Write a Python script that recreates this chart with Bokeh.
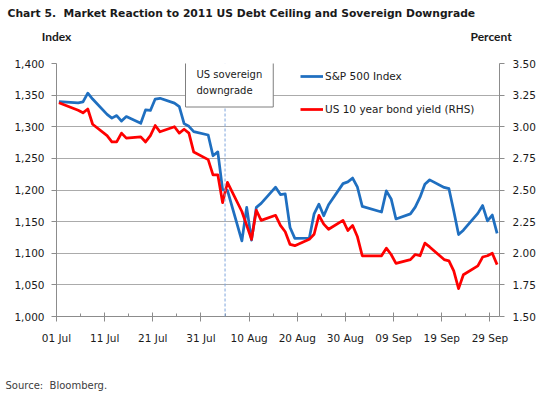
import pandas as pd
from bokeh.plotting import figure
from bokeh.models import (Range1d, LinearAxis, FixedTicker, NumeralTickFormatter,
                          DatetimeTickFormatter, Legend, LegendItem, Label, Span,
                          ColumnDataSource, Title)
from bokeh.embed import file_html
from bokeh.resources import INLINE

# ---------------- data ----------------
dates = [
    "2011-07-01", "2011-07-05", "2011-07-06", "2011-07-07", "2011-07-08",
    "2011-07-11", "2011-07-12", "2011-07-13", "2011-07-14", "2011-07-15",
    "2011-07-18", "2011-07-19", "2011-07-20", "2011-07-21", "2011-07-22",
    "2011-07-25", "2011-07-26", "2011-07-27", "2011-07-28", "2011-07-29",
    "2011-08-01", "2011-08-02", "2011-08-03", "2011-08-04", "2011-08-05",
    "2011-08-08", "2011-08-09", "2011-08-10", "2011-08-11", "2011-08-12",
    "2011-08-15", "2011-08-16", "2011-08-17", "2011-08-18", "2011-08-19",
    "2011-08-22", "2011-08-23", "2011-08-24", "2011-08-25", "2011-08-26",
    "2011-08-29", "2011-08-30", "2011-08-31", "2011-09-01", "2011-09-02",
    "2011-09-06", "2011-09-07", "2011-09-08", "2011-09-09", "2011-09-12",
    "2011-09-13", "2011-09-14", "2011-09-15", "2011-09-16", "2011-09-19",
    "2011-09-20", "2011-09-21", "2011-09-22", "2011-09-23", "2011-09-26",
    "2011-09-27", "2011-09-28", "2011-09-29", "2011-09-30",
]
sp500 = [
    1339.7, 1337.9, 1339.2, 1353.2, 1343.8,
    1319.5, 1313.6, 1317.7, 1308.9, 1316.1,
    1305.4, 1326.7, 1325.8, 1343.8, 1345.0,
    1337.4, 1331.9, 1304.9, 1300.7, 1292.3,
    1286.9, 1254.1, 1260.3, 1200.1, 1199.4,
    1119.5, 1172.5, 1120.8, 1172.6, 1178.8,
    1204.5, 1192.8, 1193.9, 1140.7, 1123.5,
    1123.8, 1162.4, 1177.6, 1159.3, 1176.8,
    1210.1, 1212.9, 1218.9, 1204.4, 1174.0,
    1165.2, 1198.6, 1185.9, 1154.2, 1162.3,
    1172.9, 1188.7, 1209.1, 1216.0, 1204.1,
    1202.1, 1166.8, 1129.6, 1136.4, 1163.0,
    1175.4, 1151.1, 1160.4, 1131.4,
]
us10y = [
    3.19, 3.13, 3.11, 3.14, 3.02,
    2.93, 2.88, 2.88, 2.95, 2.91,
    2.92, 2.88, 2.93, 3.01, 2.96,
    3.00, 2.95, 2.98, 2.95, 2.80,
    2.74, 2.62, 2.62, 2.40, 2.56,
    2.33, 2.22, 2.11, 2.34, 2.26,
    2.30, 2.22, 2.17, 2.07, 2.06,
    2.11, 2.15, 2.30, 2.23, 2.19,
    2.26, 2.18, 2.22, 2.13, 1.98,
    1.98, 2.04, 1.99, 1.92, 1.95,
    1.99, 1.98, 2.08, 2.05, 1.95,
    1.94, 1.86, 1.72, 1.83, 1.90,
    1.97, 1.98, 2.00, 1.91,
]
tick_dates = ["2011-07-01", "2011-07-11", "2011-07-21", "2011-07-31", "2011-08-10",
              "2011-08-20", "2011-08-30", "2011-09-09", "2011-09-19", "2011-09-29"]
minor_dates = ["2011-07-06", "2011-07-16", "2011-07-26", "2011-08-05", "2011-08-15",
               "2011-08-25", "2011-09-04", "2011-09-14", "2011-09-24"]
left_ticks = [1000, 1050, 1100, 1150, 1200, 1250, 1300, 1350, 1400]
right_ticks = [1.50, 1.75, 2.00, 2.25, 2.50, 2.75, 3.00, 3.25, 3.50]
x_start, x_end = "2011-07-01", "2011-10-01"
downgrade_date = "2011-08-05"

title_text = "Chart 5.\u00a0 Market Reaction to 2011 US Debt Ceiling and Sovereign Downgrade"
source_text = "Source:\u00a0 Bloomberg."
series_names = ["S&P 500 Index", "US 10 year bond yield (RHS)"]
captions = ["Index", "Percent"]
note_text = "US sovereign\ndowngrade"

# caption slots along the top edge (fraction of plot width)
caption_ticks = [0.0, 0.981]

# ---------------- helpers ----------------
def to_ms(lst):
    return [float(v) for v in
            ((pd.to_datetime(lst) - pd.Timestamp("1970-01-01")) // pd.Timedelta(milliseconds=1))]

x = pd.to_datetime(dates) + pd.Timedelta(hours=12)   # points sit mid-day
src = ColumnDataSource(dict(x=x, sp=sp500, y10=us10y))

FONT = "DejaVu Sans"
AX = "#8C8C8C"
TXT = "#1a1a1a"
SPACER = "\u00a0"

p = figure(x_axis_type="datetime",
           x_range=Range1d(pd.Timestamp(x_start), pd.Timestamp(x_end)),
           y_range=Range1d(1000, 1400),
           width=538, height=392,
           min_border_left=56, min_border_right=39,
           min_border_top=63, min_border_bottom=76,
           output_backend="svg", toolbar_location=None,
           background_fill_color="white", border_fill_color="white")
p.outline_line_color = None
p.title.text = ""
p.extra_y_ranges = {"yld": Range1d(1.5, 3.5)}
p.extra_x_ranges = {"cap": Range1d(0, 1)}

# x axis
xa = p.xaxis[0]
xa.ticker = FixedTicker(ticks=to_ms(tick_dates), minor_ticks=to_ms(minor_dates))
fmt = "%d %b"
xa.formatter = DatetimeTickFormatter(days=fmt, months=fmt, hours=fmt, years=fmt)
xa.major_tick_in = 4
xa.major_tick_out = 5
xa.minor_tick_in = 3
xa.minor_tick_out = 0
xa.major_label_standoff = 10

# left axis
ya = p.yaxis[0]
ya.ticker = FixedTicker(ticks=left_ticks)
ya.formatter = NumeralTickFormatter(format="0,0")
ya.major_tick_in = 0
ya.major_tick_out = 5
ya.major_label_standoff = 7

# right axis
ra = LinearAxis(y_range_name="yld", ticker=FixedTicker(ticks=right_ticks),
                formatter=NumeralTickFormatter(format="0.00"))
ra.major_tick_in = 0
ra.major_tick_out = 5
ra.major_label_standoff = 8
p.add_layout(ra, "right")

for ax in (xa, ya, ra):
    ax.axis_line_color = AX
    ax.major_tick_line_color = AX
    ax.minor_tick_line_color = AX if ax is xa else None
    ax.major_label_text_font = FONT
    ax.major_label_text_font_size = "10.5px"
    ax.major_label_text_color = TXT

# axis captions "Index" / "Percent" as a label-only axis above the frame
cap = LinearAxis(x_range_name="cap", ticker=FixedTicker(ticks=caption_ticks),
                 major_label_overrides=dict(zip(caption_ticks, captions)))
cap.axis_line_color = None
cap.major_tick_line_color = None
cap.minor_tick_line_color = None
cap.major_tick_in = 0
cap.major_tick_out = 0
cap.major_label_standoff = 20
cap.major_label_text_font = "Lato"
cap.major_label_text_font_style = "bold"
cap.major_label_text_font_size = "12px"
cap.major_label_text_color = TXT
p.add_layout(cap, "above")

# spacer + chart title above the captions
p.add_layout(Title(text=SPACER, text_font_size="1px", standoff=2), "above")
p.add_layout(Title(text=title_text, align="left", offset=-49, standoff=2,
                   text_font=FONT, text_font_size="10.75px", text_font_style="bold",
                   text_color=TXT), "above")

p.xgrid.visible = False
p.ygrid.ticker = FixedTicker(ticks=left_ticks)
p.ygrid.grid_line_color = "#ABABAB"
p.ygrid.grid_line_width = 1

# spacer + source note below the x axis
p.add_layout(Title(text=SPACER, text_font_size="1px", standoff=30), "below")
p.add_layout(Title(text=source_text, align="left", offset=-51, standoff=0,
                   vertical_align="top",
                   text_font=FONT, text_font_size="10px", text_font_style="normal",
                   text_color="#404040"), "below")

# downgrade marker
p.add_layout(Span(location=to_ms([downgrade_date])[0], dimension="height",
                  line_color="#7FA6DC", line_dash="3 2", line_width=1))

# series
r1 = p.line("x", "sp", source=src, line_color="#1F6FC0", line_width=2.75,
            line_join="round")
r2 = p.line("x", "y10", source=src, y_range_name="yld", line_color="#FF0000",
            line_width=2.75, line_join="round")

legend = Legend(items=[LegendItem(label=series_names[0], renderers=[r1]),
                       LegendItem(label=series_names[1], renderers=[r2])],
                location=(244, 199), orientation="vertical",
                border_line_color=None, background_fill_alpha=0,
                padding=0, margin=0, spacing=17,
                glyph_width=23, glyph_height=16, label_height=16,
                label_standoff=2,
                label_text_font=FONT, label_text_font_size="10.5px",
                label_text_color=TXT)
p.add_layout(legend)

# annotation box (shadow + box)
box_kw = dict(x=129, y=259, x_units="screen", y_units="screen",
              text=note_text, text_font=FONT,
              text_font_size="10px", text_line_height=1.5,
              text_align="left", text_baseline="top", padding=11)
p.add_layout(Label(**box_kw, x_offset=2, y_offset=-2, text_alpha=0,
                   background_fill_color="#C8C8C8"))
p.add_layout(Label(**box_kw, text_color=TXT, background_fill_color="white",
                   border_line_color="#7F7F7F", border_line_width=1))

open("out.html", "w").write(file_html(p, INLINE))
